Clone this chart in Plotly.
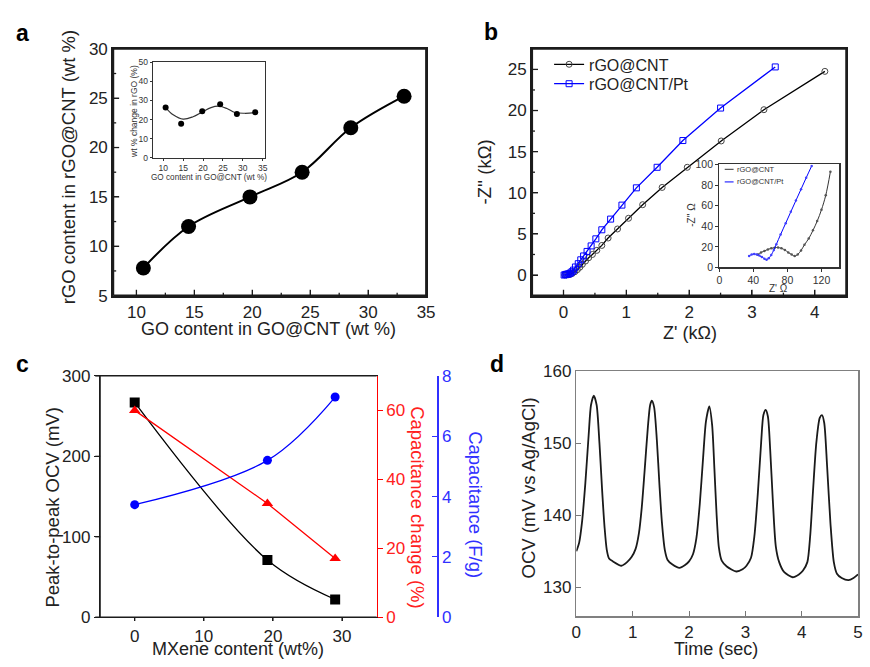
import plotly.graph_objects as go

W, H = 870, 667
FONT = "Arial, Liberation Sans, sans-serif"

# ---------------- Panel a data ----------------
go_content = [10.6, 14.5, 19.8, 24.3, 28.5, 33.1]
rgo_content = [7.8, 12.0, 15.0, 17.5, 22.0, 25.2]
inset_a_change = [26.3, 17.8, 24.3, 28.0, 22.9, 23.9]
inset_a_fit_x = [10.6, 12.5, 15.0, 17.5, 19.8, 22.0, 24.0, 26.0, 28.0, 30.5, 33.1]
inset_a_fit_y = [26.3, 22.5, 20.2, 21.5, 24.0, 26.3, 27.0, 25.8, 23.7, 23.3, 23.6]
a_xticks = [10, 15, 20, 25, 30, 35]
a_xminor = [12.5, 17.5, 22.5, 27.5, 32.5]
a_yticks = [5, 10, 15, 20, 25, 30]
a_yminor = [7.5, 12.5, 17.5, 22.5, 27.5]

# ---------------- Panel b data ----------------
b_cnt_x = [0.02, 0.05, 0.08, 0.11, 0.14, 0.18, 0.22, 0.26, 0.30, 0.35, 0.40, 0.46,
           0.53, 0.61, 0.71, 0.86, 1.035, 1.26, 1.57, 1.97, 2.51, 3.19, 4.16]
b_cnt_y = [0.0, 0.02, 0.05, 0.1, 0.2, 0.4, 0.65, 0.95, 1.3, 1.7, 2.1, 2.5,
           3.0, 3.6, 4.5, 5.6, 6.9, 8.55, 10.65, 13.1, 16.3, 20.1, 24.76]
b_pt_x = [0.01, 0.03, 0.05, 0.07, 0.09, 0.11, 0.135, 0.16, 0.19, 0.235, 0.275, 0.32,
          0.375, 0.44, 0.515, 0.61, 0.75, 0.93, 1.16, 1.49, 1.90, 2.50, 3.37]
b_pt_y = [0.0, 0.05, 0.1, 0.12, 0.15, 0.25, 0.4, 0.6, 0.98, 1.38, 1.85, 2.32,
          2.87, 3.54, 4.4, 5.5, 6.8, 8.5, 10.6, 13.1, 16.35, 20.3, 25.3]
inset_b_cnt_x = [45, 49, 53, 57, 61, 65, 69, 73, 77, 81, 85, 88.5, 92, 96, 100, 105, 110, 115, 120, 125, 130.5]
inset_b_cnt_y = [12.5, 14.5, 16, 17.5, 18.5, 19.2, 19.3, 18.5, 17, 14.5, 12.5, 11, 12.5, 16.5, 22, 28, 36, 45, 56, 70, 93]
inset_b_pt_x = [35, 38, 41, 44, 47, 50, 53, 55.5, 58, 61, 64, 67, 72, 78, 84, 90, 96, 102, 108.5]
inset_b_pt_y = [11, 12.5, 13, 12.5, 11.5, 10, 8.5, 7.5, 9, 12, 17, 22.5, 32, 43, 54, 65, 76, 87, 98.5]
b_xticks = [0, 1, 2, 3, 4]
b_xminor = [0.5, 1.5, 2.5, 3.5]
b_yticks = [0, 5, 10, 15, 20, 25]
b_yminor = [2.5, 7.5, 12.5, 17.5, 22.5]

# ---------------- Panel c data ----------------
mxene = [0, 19.2, 29]
ocv_p2p = [267, 71, 22]
cap_change = [60, 33, 17]
capacitance = [3.73, 5.2, 7.3]
c_xticks = [0, 10, 20, 30]
c_yticks = [0, 100, 200, 300]

# ---------------- Panel d data ----------------
time_s = [0.00, 0.05, 0.10, 0.16, 0.22, 0.26, 0.31, 0.36, 0.41, 0.455, 0.50, 0.54, 0.58, 0.65,
          0.80, 0.90, 0.98, 1.05, 1.11, 1.16, 1.21, 1.27, 1.31, 1.34, 1.38, 1.43, 1.475, 1.52,
          1.57, 1.62, 1.70, 1.83, 1.93, 2.00, 2.07, 2.13, 2.19, 2.25, 2.30, 2.36, 2.41, 2.45,
          2.49, 2.53, 2.58, 2.67, 2.84, 2.95, 3.02, 3.10, 3.16, 3.22, 3.28, 3.32, 3.36, 3.40,
          3.44, 3.485, 3.54, 3.60, 3.69, 3.84, 3.95, 4.02, 4.10, 4.15, 4.20, 4.26, 4.32, 4.36,
          4.40, 4.45, 4.51, 4.57, 4.625, 4.71, 4.83, 4.92, 5.00]
ocv_mv = [135.0, 136.2, 139.0, 144.5, 151.3, 155.3, 156.6, 155.3, 150.0, 143.8, 138.4, 135.2, 134.0, 133.6,
          133.0, 133.5, 134.2, 135.3, 137.5, 141.0, 146.0, 152.3, 155.3, 155.9, 155.0, 150.3, 144.2, 138.9,
          135.2, 133.8, 133.2, 132.7, 133.1, 133.6, 134.6, 136.8, 141.5, 148.0, 153.0, 155.1, 152.5, 146.5,
          140.0, 135.5, 133.7, 132.9, 132.2, 132.5, 133.0, 134.1, 137.1, 142.9, 150.1, 153.9, 154.6, 153.7,
          149.2, 142.4, 135.7, 133.5, 132.1, 131.4, 131.8, 132.3, 133.5, 137.1, 143.3, 150.1, 153.5, 153.9,
          152.8, 146.9, 138.9, 133.5, 131.9, 131.3, 131.0, 131.3, 131.8]

# panel geometry (pixels) and axis ranges
A_X, A_Y, A_XR, A_YR = (110, 428), (41, 295), (8, 35), (5, 30)
B_X, B_Y, B_XR, B_YR = (535.7, 855), (41, 295), (-0.5, 4.5), (-2.5, 27.5)
C_X, C_Y, C_XR, C_YR = (96.7, 377.7), (377.7, 626), (-5, 35), (0, 300)


def px(x):
    return min(1.0, max(0.0, x / W))


def py(y):
    return min(1.0, max(0.0, 1 - y / H))


fig = go.Figure()

# Panel a
fig.add_trace(go.Scatter(x=go_content, y=rgo_content, mode="lines+markers", line=dict(color="black", width=2, shape="spline"),
                         marker=dict(size=15, color="black"), xaxis="x", yaxis="y", showlegend=False))
fig.add_trace(go.Scatter(x=inset_a_fit_x, y=inset_a_fit_y, mode="lines", line=dict(color="#333", width=1.2, shape="spline"),
                         xaxis="x2", yaxis="y2", showlegend=False))
fig.add_trace(go.Scatter(x=go_content, y=inset_a_change, mode="markers", marker=dict(size=6, color="black"),
                         xaxis="x2", yaxis="y2", showlegend=False))

# Panel b
fig.add_trace(go.Scatter(x=b_cnt_x, y=b_cnt_y, mode="lines+markers", name="rGO@CNT",
                         line=dict(color="black", width=1.3),
                         marker=dict(symbol="circle-open", size=6, color="#444", line=dict(width=1)),
                         xaxis="x3", yaxis="y3", legend="legend"))
fig.add_trace(go.Scatter(x=b_pt_x, y=b_pt_y, mode="lines+markers", name="rGO@CNT/Pt",
                         line=dict(color="blue", width=1.3),
                         marker=dict(symbol="square-open", size=6, color="blue", line=dict(width=1)),
                         xaxis="x3", yaxis="y3", legend="legend2"))
fig.add_trace(go.Scatter(x=inset_b_cnt_x, y=inset_b_cnt_y, mode="lines+markers", line=dict(color="#333", width=1, shape="spline"),
                         marker=dict(size=2.5, color="#555"), xaxis="x4", yaxis="y4", showlegend=False))
fig.add_trace(go.Scatter(x=inset_b_pt_x, y=inset_b_pt_y, mode="lines+markers", line=dict(color="blue", width=1, shape="spline"),
                         marker=dict(size=2.5, color="#4040ff"), xaxis="x4", yaxis="y4", showlegend=False))

# Panel c
fig.add_trace(go.Scatter(x=mxene, y=ocv_p2p, mode="lines+markers", line=dict(color="black", width=1.3, shape="spline"),
                         marker=dict(symbol="square", size=10, color="black"), xaxis="x5", yaxis="y5", showlegend=False))
fig.add_trace(go.Scatter(x=mxene, y=cap_change, mode="lines+markers", line=dict(color="red", width=1.3),
                         marker=dict(symbol="triangle-up", size=10, color="red"), xaxis="x5", yaxis="y6", showlegend=False))
fig.add_trace(go.Scatter(x=mxene, y=capacitance, mode="lines+markers", line=dict(color="blue", width=1.3, shape="spline"),
                         marker=dict(symbol="circle", size=9, color="blue"), xaxis="x5", yaxis="y7", showlegend=False))

# Panel d
fig.add_trace(go.Scatter(x=time_s, y=ocv_mv, mode="lines", line=dict(color="#1a1a1a", width=1.8, shape="spline", smoothing=0.7),
                         xaxis="x6", yaxis="y8", showlegend=False))

BLK = "#1c1c1c"
tickf = dict(family=FONT, size=17, color="#222222")


def main_axis(**kw):
    d = dict(showgrid=False, zeroline=False, showline=True, linecolor=BLK, tickcolor=BLK, tickfont=tickf,
             layer="above traces")
    d.update(kw)
    return d


leg_font = dict(family=FONT, size=16, color="#222222")

fig.update_layout(
    width=W, height=H, margin=dict(l=0, r=0, t=0, b=0),
    paper_bgcolor="white", plot_bgcolor="white",
    font=dict(family=FONT, color="#222222"),
    # panel a
    xaxis=main_axis(domain=[px(A_X[0]), px(A_X[1])], anchor="y", range=list(A_XR), tickvals=a_xticks,
                    ticks="inside", ticklen=6, linewidth=2, mirror=True),
    yaxis=main_axis(domain=[py(A_Y[1]), py(A_Y[0])], anchor="x", range=list(A_YR), tickvals=a_yticks,
                    ticks="inside", ticklen=6, linewidth=2, mirror=True),
    xaxis2=dict(domain=[px(150.7), px(264)], anchor="y2", range=[7.5, 35.5], tickvals=[10, 15, 20, 25, 30, 35],
                ticks="outside", ticklen=2.5, linewidth=1, mirror=True, showgrid=False, zeroline=False, showline=True,
                linecolor="#333333", tickcolor="#333333", tickfont=dict(family=FONT, size=8.5, color="#333333")),
    yaxis2=dict(domain=[py(153), py(55)], anchor="x2", range=[0, 50], dtick=10,
                ticks="outside", ticklen=2.5, linewidth=1, mirror=True, showgrid=False, zeroline=False, showline=True,
                linecolor="#333333", tickcolor="#333333", tickfont=dict(family=FONT, size=8.5, color="#333333")),
    # panel b
    xaxis3=main_axis(domain=[px(B_X[0]), px(B_X[1])], anchor="y3", range=list(B_XR), tickvals=b_xticks,
                     ticks="inside", ticklen=6, linewidth=2, mirror=True),
    yaxis3=main_axis(domain=[py(B_Y[1]), py(B_Y[0])], anchor="x3", range=list(B_YR), tickvals=b_yticks,
                     ticks="inside", ticklen=6, linewidth=2, mirror=True),
    xaxis4=dict(domain=[px(726), px(848)], anchor="y4", range=[0, 141], tickvals=[0, 40, 80, 120],
                ticks="outside", ticklen=3, linewidth=1.2, mirror=True, showgrid=False, zeroline=False, showline=True,
                linecolor="#333333", tickcolor="#333333", tickfont=dict(family=FONT, size=10.5, color="#333333")),
    yaxis4=dict(domain=[py(266), py(160)], anchor="x4", range=[0, 100], dtick=20,
                ticks="outside", ticklen=3, linewidth=1.2, mirror=True, showgrid=False, zeroline=False, showline=True,
                linecolor="#333333", tickcolor="#333333", tickfont=dict(family=FONT, size=10.5, color="#333333")),
    # panel c
    xaxis5=main_axis(domain=[px(C_X[0]), px(C_X[1])], anchor="y5", range=list(C_XR), tickvals=c_xticks,
                     ticks="outside", ticklen=3, linewidth=1.3, mirror=True),
    yaxis5=main_axis(domain=[py(C_Y[1]), py(C_Y[0])], anchor="x5", range=list(C_YR), tickvals=c_yticks,
                     ticks="outside", ticklen=5, linewidth=1.3),
    yaxis6=dict(overlaying="y5", anchor="x5", side="right", range=[0, 70], dtick=20, ticks="outside", ticklen=5,
                showgrid=False, zeroline=False, showline=True, linecolor="#ff0000", linewidth=1.3, tickcolor="#ff0000",
                tickfont=dict(family=FONT, size=17, color="#ff2020")),
    yaxis7=dict(overlaying="y5", anchor="free", position=px(439.3), side="right", range=[0, 8], dtick=2,
                ticks="inside", ticklen=5, showgrid=False, zeroline=False, showline=True, linecolor="#3030ff",
                linewidth=1.3, tickcolor="#3030ff", tickfont=dict(family=FONT, size=17, color="#3030ff")),
    # panel d
    xaxis6=dict(domain=[px(580.7), px(867)], anchor="y8", range=[0, 5], dtick=1, ticks="inside", ticklen=5,
                linewidth=1.5, mirror=True, tickcolor="#777777", showgrid=False, zeroline=False, showline=True,
                linecolor="#808080", tickfont=tickf),
    yaxis8=dict(domain=[py(625), py(372.7)], anchor="x6", range=[126, 160], dtick=10, ticks="inside", ticklen=5,
                linewidth=1.5, mirror=True, tickcolor="#777777", showgrid=False, zeroline=False, showline=True,
                linecolor="#808080", tickfont=tickf),
    legend=dict(x=px(553), y=py(57), xanchor="left", yanchor="middle", bgcolor="rgba(0,0,0,0)",
                font=leg_font, itemwidth=30),
    legend2=dict(x=px(553), y=py(77), xanchor="left", yanchor="middle", bgcolor="rgba(0,0,0,0)",
                 font=leg_font, itemwidth=30),
)

TF = 18.5
ann = []


def label(text, x, y, size=TF, angle=0, color="#222222", bold=False):
    t = "<b>%s</b>" % text if bold else text
    ann.append(dict(text=t, x=px(x), y=py(y), xref="paper", yref="paper", showarrow=False,
                    xanchor="center", yanchor="middle", textangle=angle,
                    font=dict(family=FONT, size=size, color=color)))


# panel letters
label("a", 18, 25, size=23, color="#000000", bold=True)
label("b", 494, 24, size=23, color="#000000", bold=True)
label("c", 18, 365, size=23, color="#000000", bold=True)
label("d", 500, 365, size=23, color="#000000", bold=True)

# panel a titles
label("rGO content in rGO@CNT (wt %)", 64, 163, angle=-90)
label("GO content in GO@CNT (wt %)", 268, 329, size=18)
label("wt % change in rGO (%)", 131, 105, size=8.5, angle=-90, color="#333333")
label("GO content in GO@CNT (wt %)", 207, 173.5, size=8.2, color="#333333")

# panel b titles
label("-Z'' (kΩ)", 487, 168, angle=-90)
label("Z' (kΩ)", 696, 334, size=18)
label("-Z'' Ω", 698, 212, size=10, angle=-90, color="#333333")
label("Z' Ω", 786, 287.5, size=10, color="#333333")

# inset b legend
ann.append(dict(text="rGO@CNT", x=px(742), y=py(165), xref="paper", yref="paper", showarrow=False,
                xanchor="left", yanchor="middle", font=dict(family=FONT, size=7.5, color="#333333")))
ann.append(dict(text="rGO@CNT/Pt", x=px(742), y=py(178), xref="paper", yref="paper", showarrow=False,
                xanchor="left", yanchor="middle", font=dict(family=FONT, size=7.5, color="#333333")))

# panel c titles
label("Peak-to-peak OCV (mV)", 48, 513, angle=-90)
label("MXene content (wt%)", 237, 658.5, size=18)
label("Capacitance change (%)", 419, 513, angle=90, color="#ff2020")
label("Capacitance (F/g)", 478, 510, angle=90, color="#3030ff")

# panel d titles
label("OCV (mV vs Ag/AgCl)", 533, 493, angle=-90)
label("Time (sec)", 723, 658.5, size=18)

fig.update_layout(annotations=ann)

# ---- frames and tick marks as paper-referenced shapes ----
shapes = [
    dict(type="line", xref="paper", yref="paper", x0=px(731.5), x1=px(740.5), y0=py(165), y1=py(165),
         line=dict(color="#333333", width=1)),
    dict(type="line", xref="paper", yref="paper", x0=px(731.5), x1=px(740.5), y0=py(178), y1=py(178),
         line=dict(color="#0000ff", width=1)),
]


def seg(x0, y0, x1, y1, width, color=BLK):
    shapes.append(dict(type="line", xref="paper", yref="paper", x0=px(x0), y0=py(y0), x1=px(x1), y1=py(y1),
                       line=dict(color=color, width=width), layer="above"))


def frame(X, Y, width, sides="lrtb"):
    if "l" in sides:
        seg(X[0], Y[0], X[0], Y[1], width)
    if "r" in sides:
        seg(X[1], Y[0], X[1], Y[1], width)
    if "t" in sides:
        seg(X[0], Y[0], X[1], Y[0], width)
    if "b" in sides:
        seg(X[0], Y[1], X[1], Y[1], width)


def xtick_marks(X, Y, R, vals, length, width=1.3):
    for v in vals:
        p = X[0] + (v - R[0]) / (R[1] - R[0]) * (X[1] - X[0])
        seg(p, Y[1], p, Y[1] - length, width)


def ytick_marks(X, Y, R, vals, length, width=1.3):
    for v in vals:
        p = Y[1] - (v - R[0]) / (R[1] - R[0]) * (Y[1] - Y[0])
        seg(X[0], p, X[0] + length, p, width)


# panel a (inside ticks)
frame(A_X, A_Y, 2)
xtick_marks(A_X, A_Y, A_XR, a_xticks[:-1], 6)
xtick_marks(A_X, A_Y, A_XR, a_xminor, 3)
ytick_marks(A_X, A_Y, A_YR, a_yticks[1:-1], 6)
ytick_marks(A_X, A_Y, A_YR, a_yminor, 3)
# panel b (inside ticks)
frame(B_X, B_Y, 2)
xtick_marks(B_X, B_Y, B_XR, b_xticks, 6)
xtick_marks(B_X, B_Y, B_XR, b_xminor, 3)
ytick_marks(B_X, B_Y, B_YR, b_yticks, 6)
ytick_marks(B_X, B_Y, B_YR, b_yminor, 3)
# panel c (outside ticks; right edge is the red axis)
frame(C_X, C_Y, 1.3, sides="ltb")
xtick_marks(C_X, C_Y, C_XR, c_xticks, -4)
ytick_marks(C_X, C_Y, C_YR, c_yticks, -5)

fig.update_layout(shapes=shapes)

fig.write_html("out.html", config={"staticPlot": True})
